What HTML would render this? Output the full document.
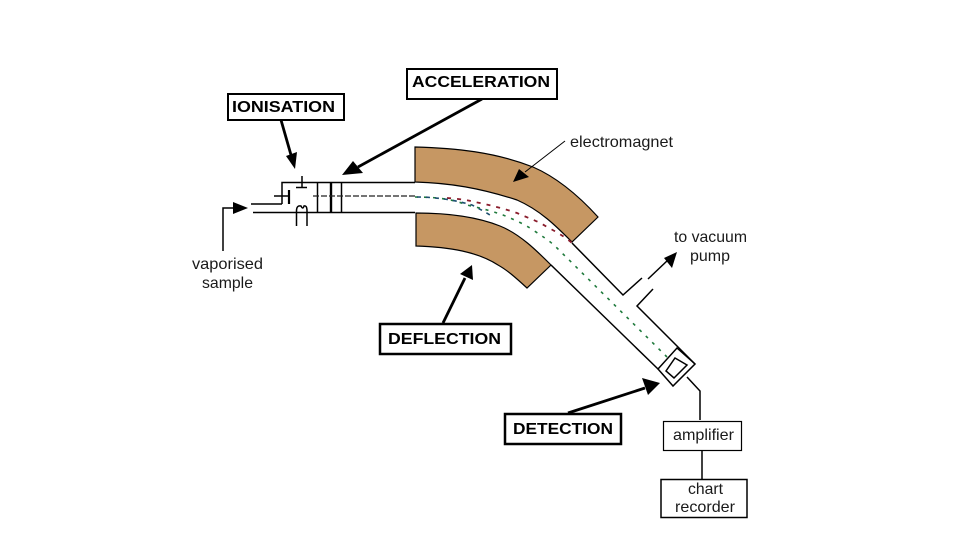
<!DOCTYPE html>
<html>
<head>
<meta charset="utf-8">
<style>
html,body{margin:0;padding:0;background:#fff;width:960px;height:540px;overflow:hidden}
svg{display:block}
text{font-family:"Liberation Sans",sans-serif;font-size:16px;fill:#1a1a1a}
text.b{font-weight:bold;font-size:15.5px;fill:#000}
</style>
</head>
<body>
<svg width="960" height="540" viewBox="0 0 960 540" xmlns="http://www.w3.org/2000/svg">
<rect width="960" height="540" fill="#fff"/>

<!-- magnets -->
<path d="M415 147 L415 182 C450 183 480 188 517 200 C540 210 556 226 572 242 L598 217 C578 195 556 177 533 167 C495 152 455 148 415 147 Z" fill="#c69763" stroke="#000" stroke-width="1.200"/>
<path d="M416 213 C445 213 475 216 500 226 C520 234 537 251 551 265 L527 288 C515 277 507 270 498 265 C478 252 450 247 416 246 Z" fill="#c69763" stroke="#000" stroke-width="1.200"/>

<g fill="none" stroke="#000" stroke-width="1.500">
<!-- source chamber -->
<path d="M282 204 V182.500 H415"/>
<path d="M251 204 H282"/>
<path d="M253 212.500 H415"/>
<path d="M274 196 H289"/>
<path d="M296 187.500 H307"/>
<path d="M302 176 V187"/>
<path d="M296.500 226 V211 Q296.500 205 301 206 Q303 210 304 206 Q307 205 307 211 V226"/>
<path d="M317.500 182 V212"/>
<path d="M341.500 182 V212"/>
<!-- tube after magnet -->
<path d="M572 243 L623 295 L642 278"/>
<path d="M653 289 L637 306 L695 364"/>
<path d="M551 265 L658 369"/>
<!-- detector -->
<path d="M677 348 L695 364 L673 386 L658 369 Z"/>
<path d="M675 358 L687 365 L674 378 L666 371 Z"/>
<path d="M687 377 L700 391 V420"/>
<path d="M702 451 V479"/>
<!-- vaporised lead -->
<path d="M223 251 V208 H236"/>
<!-- pump, magnet pointer -->
<path d="M648 279 L668 260"/>
<path d="M565 141 L525 172" stroke-width="1"/>
</g>
<path d="M289 190 V204" stroke="#000" stroke-width="2.200"/>
<path d="M331 182 V212" stroke="#000" stroke-width="2.400"/>

<!-- beam -->
<path d="M313 196 H415" fill="none" stroke="#222" stroke-width="1.200" stroke-dasharray="6 2"/>
<path d="M415 197 C440 197 455 200 467 205 C480 208 492 211 503 215 C515 220 524 224 533 230 C542 236 550 241 557 248 L667 357" fill="none" stroke="#1f7a3c" stroke-width="1.600" stroke-dasharray="3 6"/>
<path d="M447 198 C460 199 468 200 475 202 C490 205 505 209 517 213 C528 218 538 221 547 227 C557 232 565 237 572 243" fill="none" stroke="#8a1c2c" stroke-width="1.800" stroke-dasharray="4 6"/>
<path d="M417 197 C435 197 455 200 472 205 C480 209 487 213 493 217" fill="none" stroke="#1d4f70" stroke-width="1.600" stroke-dasharray="4 5"/>

<!-- arrows -->
<g stroke="#000" stroke-width="2.800" fill="none">
<path d="M281 120 L291 155"/>
<path d="M482 99 L358 167"/>
<path d="M443 323 L465 278"/>
<path d="M568 413 L645 388"/>
</g>
<g fill="#000">
<path d="M248 208 L233 202 L233 214 Z"/>
<path d="M295 169 L286 156 L297 152 Z"/>
<path d="M342 175 L353 161 L363 173 Z"/>
<path d="M472 265 L460 274 L473 280 Z"/>
<path d="M660 383 L642 378 L648 395 Z"/>
<path d="M677 252 L664 258 L672 268 Z"/>
<path d="M513 182 L519 169 L529 177 Z"/>
</g>

<!-- boxes -->
<g fill="#fff" stroke="#000">
<rect x="228" y="94" width="116" height="26" stroke-width="2"/>
<rect x="407" y="69" width="150" height="30" stroke-width="2"/>
<rect x="380" y="324" width="131" height="30" stroke-width="2.500"/>
<rect x="505" y="414" width="116" height="30" stroke-width="2.500"/>
<rect x="663.500" y="421.500" width="78" height="29" stroke-width="1.200"/>
<rect x="661" y="479.500" width="86" height="38" stroke-width="1.500"/>
</g>

<!-- labels -->
<text class="b" x="232" y="112" textLength="103" lengthAdjust="spacingAndGlyphs">IONISATION</text>
<text class="b" x="412" y="87" textLength="138" lengthAdjust="spacingAndGlyphs">ACCELERATION</text>
<text class="b" x="388" y="344" textLength="113" lengthAdjust="spacingAndGlyphs">DEFLECTION</text>
<text class="b" x="513" y="434" textLength="100" lengthAdjust="spacingAndGlyphs">DETECTION</text>
<text x="570" y="147" textLength="103" lengthAdjust="spacingAndGlyphs">electromagnet</text>
<text x="192" y="269" textLength="71" lengthAdjust="spacingAndGlyphs">vaporised</text>
<text x="202" y="288" textLength="51" lengthAdjust="spacingAndGlyphs">sample</text>
<text x="674" y="242" textLength="73" lengthAdjust="spacingAndGlyphs">to vacuum</text>
<text x="690" y="261" textLength="40" lengthAdjust="spacingAndGlyphs">pump</text>
<text x="673" y="440" textLength="61" lengthAdjust="spacingAndGlyphs">amplifier</text>
<text x="688" y="494" textLength="35" lengthAdjust="spacingAndGlyphs">chart</text>
<text x="675" y="512" textLength="60" lengthAdjust="spacingAndGlyphs">recorder</text>
</svg>
</body>
</html>
